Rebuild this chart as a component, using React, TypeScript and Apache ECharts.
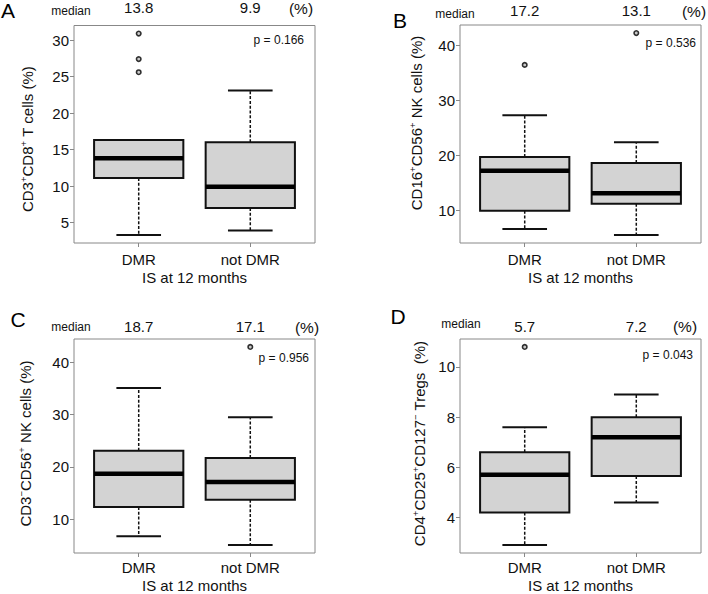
import React, { useEffect, useRef } from 'react';
import * as echarts from 'echarts';

// Group names on the x axis
const groups = ['DMR', 'not DMR'];

// Five-number summaries per group: [lower whisker, Q1, median, Q3, upper whisker]
const cd8Box = [
  [3.3, 11.1, 13.8, 16.3, 16.3],
  [3.9, 7.0, 9.9, 16.0, 23.1],
];
const cd8Outliers = [[30.9, 27.4, 25.6], []];
const cd8Ticks = [5, 10, 15, 20, 25, 30];

const nkBox = [
  [6.6, 9.9, 17.2, 19.7, 27.3],
  [5.5, 11.2, 13.1, 18.6, 22.4],
];
const nkOutliers = [[36.5], [42.3]];
const nkTicks = [10, 20, 30, 40];

const cd3negBox = [
  [6.7, 12.3, 18.7, 23.1, 35.1],
  [5.0, 13.7, 17.1, 21.7, 29.5],
];
const cd3negOutliers = [[], [43.0]];
const cd3negTicks = [10, 20, 30, 40];

const tregBox = [
  [2.9, 4.2, 5.7, 6.6, 7.6],
  [4.6, 5.65, 7.2, 8.0, 8.9],
];
const tregOutliers = [[10.8], []];
const tregTicks = [4, 6, 8, 10];

const pValues = ['0.166', '0.536', '0.956', '0.043'];
const panelLetters = ['A', 'B', 'C', 'D'];

const FONT = '"Liberation Sans", Arial, Helvetica, sans-serif';
const INK = '#111';
const FRAME = '#888';

// Rich-text y-axis titles with superscript markers
const yTitles = [
  '{n|CD3}{s|+}{n|CD8}{s|+}{n| T cells (%)}',
  '{n|CD16}{s|+}{n|CD56}{s|+}{n| NK cells (%)}',
  '{n|CD3}{s|−}{n|CD56}{s|+}{n| NK cells (%)}',
  '{n|CD4}{s|+}{n|CD25}{s|+}{n|CD127}{s|−}{n| Tregs  (%)}',
];

// Panel geometry (pixels)
const layouts = [
  { grid: { left: 74, top: 25, width: 241, height: 218 }, topMargin: 10.5, botMargin: 8.5, nameGap: 27,
    letter: [8, 10], median: [71, 11], pct: [301, 8], p: [304, 40], yTitle: [27.5, 139] },
  { grid: { left: 460, top: 25, width: 241, height: 218 }, topMargin: 7.5, botMargin: 8.5, nameGap: 27,
    letter: [400, 20], median: [455, 14], pct: [694, 11], p: [696, 43], yTitle: [416, 123] },
  { grid: { left: 74, top: 339, width: 241, height: 216 }, topMargin: 5.5, botMargin: 6.5, nameGap: 25,
    letter: [18, 319], median: [71, 327], pct: [307, 327], p: [309, 358], yTitle: [25.5, 443.5] },
  { grid: { left: 460, top: 339, width: 241, height: 216 }, topMargin: 5.5, botMargin: 6.5, nameGap: 25,
    letter: [398, 316], median: [461, 324], pct: [685, 326], p: [693, 355], yTitle: [419, 443.5] },
];

const boxes = [cd8Box, nkBox, cd3negBox, tregBox];
const outliers = [cd8Outliers, nkOutliers, cd3negOutliers, tregOutliers];
const ticks = [cd8Ticks, nkTicks, cd3negTicks, tregTicks];

// x range as in base-R boxplots: positions 1..n, limits 0.5..n+0.5 widened by 4%
const X_MIN = 0.5 - 0.04 * 2;
const X_MAX = 2.5 + 0.04 * 2;

function yExtent(box: number[][], out: number[][]) {
  const vals = box.flat().concat(out.flat());
  const lo = Math.min(...vals);
  const hi = Math.max(...vals);
  const pad = (hi - lo) * 0.04;
  return [lo - pad, hi + pad];
}

function renderBox(params: any, api: any) {
  const x = api.value(0);
  const lo = api.coord([x, api.value(1)]);
  const q1 = api.coord([x, api.value(2)]);
  const med = api.coord([x, api.value(3)]);
  const q3 = api.coord([x, api.value(4)]);
  const hi = api.coord([x, api.value(5)]);
  const cx = med[0];
  const halfBox = api.size([0.8, 0])[0] / 2;
  const halfCap = halfBox / 2;
  const dashed = { stroke: INK, lineWidth: 1.5, lineDash: [3, 1.8] };
  const solid = { stroke: INK, lineWidth: 2 };
  return {
    type: 'group',
    children: [
      { type: 'line', shape: { x1: cx, y1: q1[1], x2: cx, y2: lo[1] }, style: dashed },
      { type: 'line', shape: { x1: cx, y1: q3[1], x2: cx, y2: hi[1] }, style: dashed },
      { type: 'line', shape: { x1: cx - halfCap, y1: lo[1], x2: cx + halfCap, y2: lo[1] }, style: solid },
      { type: 'line', shape: { x1: cx - halfCap, y1: hi[1], x2: cx + halfCap, y2: hi[1] }, style: solid },
      {
        type: 'rect',
        shape: { x: cx - halfBox, y: q3[1], width: halfBox * 2, height: q1[1] - q3[1] },
        style: { fill: '#d3d3d3', stroke: INK, lineWidth: 2 },
      },
      {
        type: 'line',
        shape: { x1: cx - halfBox, y1: med[1], x2: cx + halfBox, y2: med[1] },
        style: { stroke: '#000', lineWidth: 4.5 },
      },
    ],
  };
}

function buildOption() {
  const grid: any[] = [];
  const xAxis: any[] = [];
  const yAxis: any[] = [];
  const series: any[] = [];
  const graphic: any[] = [];

  layouts.forEach((L, i) => {
    const box = boxes[i];
    const out = outliers[i];
    const [yMin, yMax] = yExtent(box, out);

    grid.push({ ...L.grid, show: true, borderColor: FRAME, borderWidth: 1, backgroundColor: 'transparent' });

    // bottom axis: group names
    xAxis.push({
      type: 'value',
      gridIndex: i,
      min: X_MIN,
      max: X_MAX,
      position: 'bottom',
      axisLine: { show: false },
      splitLine: { show: false },
      axisTick: { show: true, customValues: [1, 2], length: 4, lineStyle: { color: FRAME } },
      axisLabel: {
        customValues: [1, 2],
        formatter: (v: number) => groups[Math.round(v) - 1] ?? '',
        fontSize: 15,
        color: INK,
        margin: L.botMargin,
        fontFamily: FONT,
      },
      name: 'IS at 12 months',
      nameLocation: 'middle',
      nameGap: L.nameGap,
      nameTextStyle: { fontSize: 15, color: INK, fontFamily: FONT },
    });
    // top axis: group medians
    xAxis.push({
      type: 'value',
      gridIndex: i,
      min: X_MIN,
      max: X_MAX,
      position: 'top',
      axisLine: { show: false },
      splitLine: { show: false },
      axisTick: { show: false },
      axisLabel: {
        customValues: [1, 2],
        formatter: (v: number) => {
          const g = box[Math.round(v) - 1];
          return g ? g[2].toFixed(1) : '';
        },
        fontSize: 15,
        color: INK,
        margin: L.topMargin,
        fontFamily: FONT,
      },
    });

    yAxis.push({
      type: 'value',
      gridIndex: i,
      min: yMin,
      max: yMax,
      axisLine: { show: false },
      splitLine: { show: false },
      axisTick: { show: true, customValues: ticks[i], length: 4, lineStyle: { color: FRAME } },
      axisLabel: { customValues: ticks[i], fontSize: 15, color: INK, margin: 5, fontFamily: FONT },
    });

    series.push({
      type: 'custom',
      xAxisIndex: i * 2,
      yAxisIndex: i,
      renderItem: renderBox,
      encode: { x: 0, y: [1, 2, 3, 4, 5] },
      data: box.map((b, k) => [k + 1, ...b]),
      z: 2,
    });

    const pts: number[][] = [];
    out.forEach((vals, k) => vals.forEach((v) => pts.push([k + 1, v])));
    series.push({
      type: 'scatter',
      xAxisIndex: i * 2,
      yAxisIndex: i,
      data: pts,
      symbol: 'circle',
      symbolSize: 4.5,
      itemStyle: { color: '#bbb', borderColor: '#000', borderWidth: 1.6 },
      z: 3,
    });

    graphic.push(
      {
        type: 'text',
        x: L.letter[0],
        y: L.letter[1],
        style: { text: panelLetters[i], fontSize: 21, fontFamily: FONT, fill: '#000', align: 'center', verticalAlign: 'middle' },
      },
      {
        type: 'text',
        x: L.median[0],
        y: L.median[1],
        style: { text: 'median', fontSize: 12, fontFamily: FONT, fill: INK, align: 'center', verticalAlign: 'middle' },
      },
      {
        type: 'text',
        x: L.pct[0],
        y: L.pct[1],
        style: { text: '(%)', fontSize: 15.5, fontFamily: FONT, fill: INK, align: 'center', verticalAlign: 'middle' },
      },
      {
        type: 'text',
        x: L.p[0],
        y: L.p[1],
        style: { text: 'p = ' + pValues[i], fontSize: 12, fontFamily: FONT, fill: INK, align: 'right', verticalAlign: 'middle' },
      },
      {
        type: 'text',
        x: L.yTitle[0],
        y: L.yTitle[1],
        rotation: Math.PI / 2,
        style: {
          text: yTitles[i],
          fontSize: 15,
          fontFamily: FONT,
          fill: INK,
          align: 'center',
          verticalAlign: 'middle',
          rich: {
            n: { fontSize: 15, fontFamily: FONT, fill: INK, lineHeight: 18 },
            s: { fontSize: 9.5, fontFamily: FONT, fill: INK, verticalAlign: 'top', lineHeight: 12 },
          },
        },
      }
    );
  });

  return {
    animation: false,
    backgroundColor: '#fff',
    textStyle: { fontFamily: FONT },
    grid,
    xAxis,
    yAxis,
    series,
    graphic,
  };
}

export default function App() {
  const ref = useRef<HTMLDivElement>(null);
  useEffect(() => {
    if (!ref.current) return;
    const chart = echarts.init(ref.current, undefined, { renderer: 'svg' });
    chart.setOption(buildOption() as any);
    return () => chart.dispose();
  }, []);
  return (
    <div
      ref={ref}
      style={{ position: 'absolute', left: 0, top: 0, width: 708, height: 594, background: '#fff' }}
    />
  );
}
